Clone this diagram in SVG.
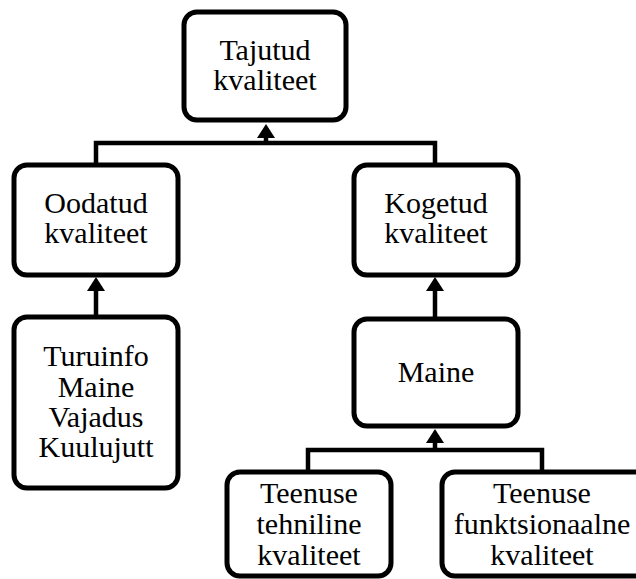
<svg xmlns="http://www.w3.org/2000/svg" width="636" height="579" viewBox="0 0 636 579">
<style>
.box{fill:#fff;stroke:#000;stroke-width:5}
.ln{fill:none;stroke:#000;stroke-width:4.5}
.ah{fill:#000}
.t{font-family:"Liberation Serif","Times New Roman",serif;font-size:30px;text-anchor:middle;fill:#000}
</style>
<rect width="636" height="579" fill="#fff"/>
<g id="connectors">
<path class="ln" d="M96,165 V143 H435 V165"/>
<path class="ln" d="M266,143 V136"/>
<polygon class="ah" points="266,124 275,138 257,138"/>
<path class="ln" d="M96,317 V288"/>
<polygon class="ah" points="96,277 105,291 87,291"/>
<path class="ln" d="M435,319 V288"/>
<polygon class="ah" points="435,277 444,291 426,291"/>
<path class="ln" d="M308,472 V450 H542 V472"/>
<path class="ln" d="M435,450 V440"/>
<polygon class="ah" points="435,429 444,443 426,443"/>
</g>
<g id="n-tajutud"><rect class="box" x="184" y="12" width="162" height="108" rx="13"/><text class="t" x="265" y="60">Tajutud</text><text class="t" x="265" y="90">kvaliteet</text></g>
<g id="n-oodatud"><rect class="box" x="14" y="165" width="164" height="110" rx="13"/><text class="t" x="96" y="213">Oodatud</text><text class="t" x="96" y="243">kvaliteet</text></g>
<g id="n-kogetud"><rect class="box" x="354" y="165" width="164" height="110" rx="13"/><text class="t" x="436" y="213">Kogetud</text><text class="t" x="436" y="243">kvaliteet</text></g>
<g id="n-turuinfo"><rect class="box" x="14" y="317" width="164" height="171" rx="13"/><text class="t" x="96" y="366">Turuinfo</text><text class="t" x="96" y="397">Maine</text><text class="t" x="96" y="427">Vajadus</text><text class="t" x="96" y="457">Kuulujutt</text></g>
<g id="n-maine"><rect class="box" x="354" y="319" width="164" height="107" rx="13"/><text class="t" x="436" y="382">Maine</text></g>
<g id="n-tehniline"><rect class="box" x="227" y="472" width="164" height="104" rx="13"/><text class="t" x="309" y="503">Teenuse</text><text class="t" x="309" y="534">tehniline</text><text class="t" x="309" y="565">kvaliteet</text></g>
<g id="n-funktsionaalne"><rect class="box" x="442" y="472" width="210" height="104" rx="13"/><text class="t" x="542" y="503">Teenuse</text><text class="t" x="542" y="534">funktsionaalne</text><text class="t" x="542" y="565">kvaliteet</text></g>
</svg>
